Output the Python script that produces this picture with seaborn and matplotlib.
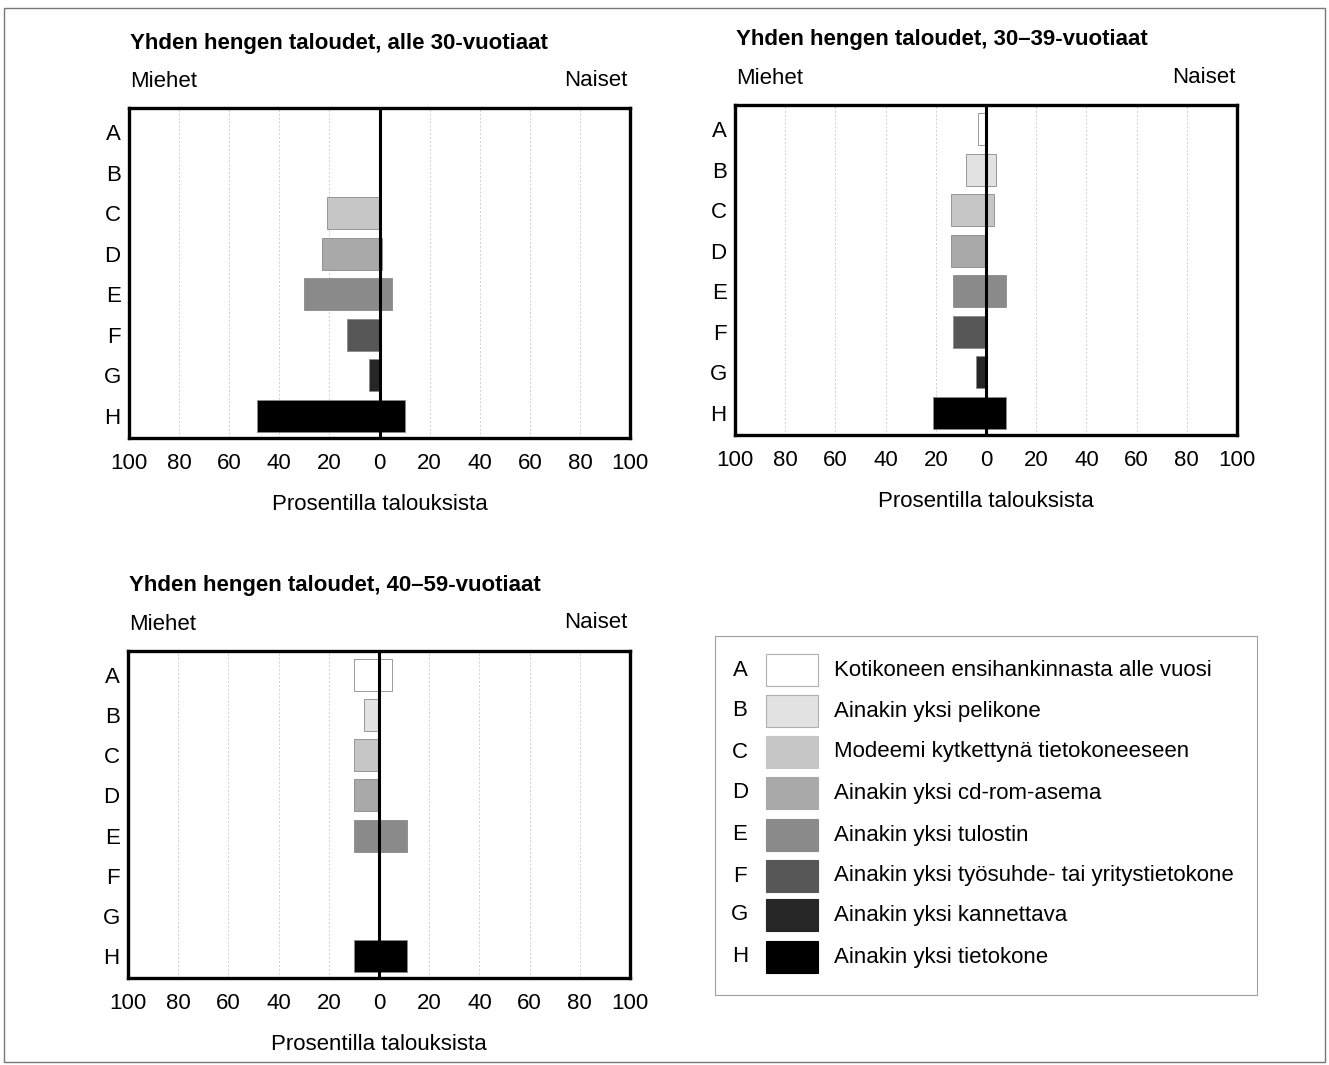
import numpy as np
import pandas as pd
import seaborn as sns
import matplotlib.pyplot as plt
from matplotlib.patches import Rectangle

# ---- data ----
letters = ['A', 'B', 'C', 'D', 'E', 'F', 'G', 'H']
legend_labels = ['Kotikoneen ensihankinnasta alle vuosi',
                 'Ainakin yksi pelikone',
                 'Modeemi kytkettynä tietokoneeseen',
                 'Ainakin yksi cd-rom-asema',
                 'Ainakin yksi tulostin',
                 'Ainakin yksi työsuhde- tai yritystietokone',
                 'Ainakin yksi kannettava',
                 'Ainakin yksi tietokone']
grays = ['#ffffff', '#e2e2e2', '#c6c6c6', '#a9a9a9', '#8a8a8a', '#575757', '#262626', '#000000']

titles = ['Yhden hengen taloudet, alle 30-vuotiaat',
          'Yhden hengen taloudet, 30–39-vuotiaat',
          'Yhden hengen taloudet, 40–59-vuotiaat']

# men (left side) and women (right side), percent of households
men_u30 = [0, 0, 21, 23, 30, 13, 4, 49]
women_u30 = [0, 0, 0, 1, 5, 0, 0, 10]
men_30_39 = [3, 8, 14, 14, 13, 13, 4, 21]
women_30_39 = [0, 4, 3, 0, 8, 0, 0, 8]
men_40_59 = [10, 6, 10, 10, 10, 0, 0, 10]
women_40_59 = [5, 0, 0, 0, 11, 0, 0, 11]

panels = [(men_u30, women_u30), (men_30_39, women_30_39), (men_40_59, women_40_59)]

sns.set_style('white')
plt.rcParams['font.family'] = ['Liberation Sans', 'DejaVu Sans']
plt.rcParams['text.color'] = 'black'
plt.rcParams['xtick.color'] = 'black'
plt.rcParams['ytick.color'] = 'black'
plt.rcParams['axes.labelcolor'] = 'black'

FS = 16

W, H = 1329, 1065
fig = plt.figure(figsize=(W / 100, H / 100), dpi=100)

def px_axes(left, top, right, bottom):
    return fig.add_axes([left / W, 1 - bottom / H, (right - left) / W, (bottom - top) / H])

axes = [px_axes(129, 108, 630, 438),
        px_axes(735, 105, 1237, 435),
        px_axes(128, 651, 630, 978)]

palette = dict(zip(letters, grays))

for ax, title, (men, women) in zip(axes, titles, panels):
    df = pd.DataFrame({'cat': letters, 'men': -np.array(men), 'women': women})
    for col in ['men', 'women']:
        sns.barplot(data=df, x=col, y='cat', hue='cat', palette=palette, order=letters,
                    orient='h', width=0.8, edgecolor='#8a8a8a', linewidth=0.6,
                    legend=False, ax=ax)
    ax.set_xlim(-100, 100)
    ax.set_ylim(7.55, -0.6)
    ticks = np.arange(-100, 101, 20)
    ax.set_xticks(ticks)
    ax.set_xticklabels([str(abs(t)) for t in ticks])
    for t in ticks[1:-1]:
        if t != 0:
            ax.axvline(t, color='#cfcfcf', lw=0.7, ls=(0, (2, 2)), zorder=0)
    ax.axvline(0, color='black', lw=2.2, zorder=5)
    for s in ax.spines.values():
        s.set_visible(True)
        s.set_linewidth(2.4)
        s.set_color('black')
    ax.tick_params(axis='both', length=0, labelsize=FS)
    ax.tick_params(axis='x', pad=11)
    ax.tick_params(axis='y', pad=6)
    ax.set_ylabel('')
    ax.set_xlabel('Prosentilla talouksista', fontsize=FS, labelpad=14)
    ax.annotate(title, xy=(0, 1), xycoords='axes fraction', xytext=(1, 65),
                textcoords='offset pixels', ha='left', va='center',
                fontsize=FS, fontweight='bold')
    ax.annotate('Miehet', xy=(0, 1), xycoords='axes fraction', xytext=(1, 27),
                textcoords='offset pixels', ha='left', va='center', fontsize=FS)
    ax.annotate('Naiset', xy=(1, 1), xycoords='axes fraction', xytext=(-2, 28),
                textcoords='offset pixels', ha='right', va='center', fontsize=FS)

# ---- legend box ----
lax = px_axes(715, 636, 1257, 995)
lax.set_xlim(715, 1257)
lax.set_ylim(995, 636)
lax.set_xticks([])
lax.set_yticks([])
for s in lax.spines.values():
    s.set_color('#a0a0a0')
    s.set_linewidth(0.8)
row_y = [670, 711, 752, 793, 835, 876, 915, 957]
for yy, let, lab, c in zip(row_y, letters, legend_labels, grays):
    lax.text(740, yy, let, ha='center', va='center', fontsize=FS)
    lax.add_patch(Rectangle((766, yy - 16), 52, 32, facecolor=c,
                            edgecolor='#b0b0b0' if let in 'AB' else c, lw=0.8))
    lax.text(834, yy, lab, ha='left', va='center', fontsize=FS)

# outer frame
fig.add_artist(Rectangle((4 / W, 1 - 1062 / H), 1321 / W, 1054 / H,
                         transform=fig.transFigure, fill=False,
                         edgecolor='#777777', lw=1.0))

fig.savefig('out.png', dpi=100)
